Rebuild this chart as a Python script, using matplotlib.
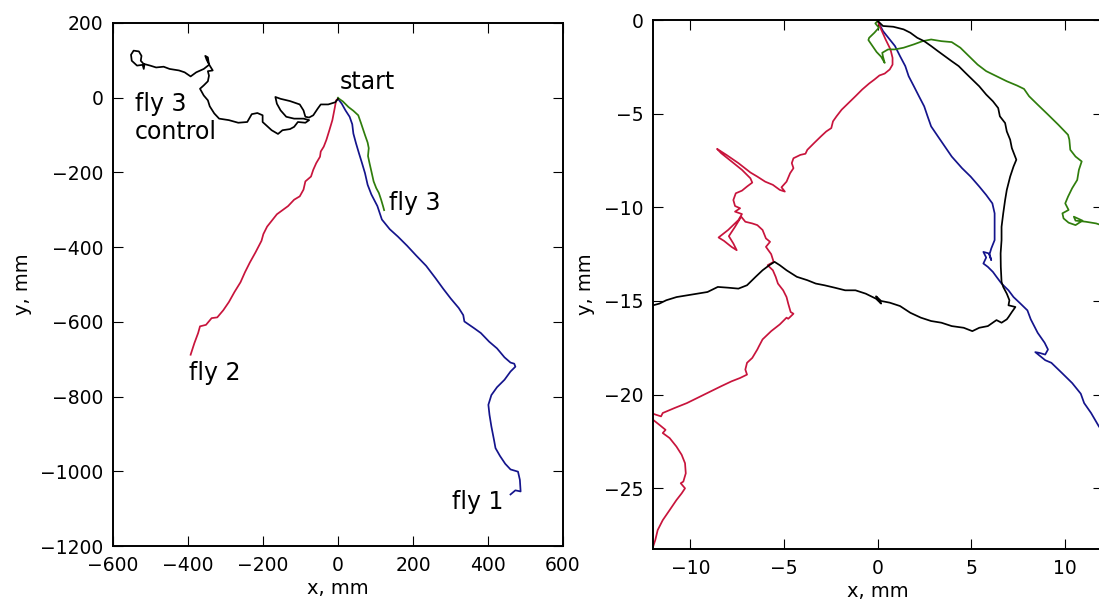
import numpy as np
import matplotlib
matplotlib.use('Agg')
import matplotlib.pyplot as plt

# ---- whole-track view (mm) ----
fly1_x = [0, 10, 20, 31, 38, 41, 48, 56, 64, 72, 79, 89, 105, 117, 138, 160, 184, 209, 235, 260, 281, 301, 322, 334,
          337, 363, 381, 403, 424, 444, 460, 470, 473, 460, 444, 424, 409, 401, 404, 409, 416, 420, 432, 446, 460,
          480, 485, 487, 473, 460]
fly1_y = [-3, -16, -34, -51, -71, -96, -122, -149, -175, -202, -233, -259, -290, -326, -352, -372, -396, -423, -450,
          -483, -512, -538, -563, -582, -599, -617, -630, -653, -671, -695, -709, -712, -720, -733, -755, -775, -796,
          -822, -849, -880, -916, -938, -959, -980, -995, -1001, -1023, -1054, -1051, -1062]

fly2_x = [0, -5, -9, -15, -23, -31, -38, -46, -48, -58, -66, -72, -87, -92, -102, -117, -133, -148, -163, -174, -189,
          -199, -204, -220, -235, -248, -260, -276, -291, -306, -322, -337, -352, -368, -373, -383, -393]
fly2_y = [-3, -7, -29, -60, -87, -113, -131, -144, -158, -175, -193, -211, -224, -246, -264, -273, -290, -301, -312,
          -326, -345, -365, -383, -414, -441, -467, -494, -520, -547, -569, -588, -590, -608, -612, -630, -657, -688]

fly3_x = [0, 3, 13, 28, 41, 54, 61, 66, 72, 79, 82, 80, 84, 89, 95, 102, 109, 115, 120, 123]
fly3_y = [0, -3, -10, -25, -35, -47, -67, -82, -100, -120, -135, -156, -175, -197, -224, -242, -255, -273, -290, -301]

ctrl_x = [0, -7, -26, -46, -54, -66, -77, -87, -92, -102, -128, -153, -167, -163, -153, -138, -117, -92, -77, -87,
          -107, -117, -128, -148, -160, -177, -189, -201, -201, -215, -230, -242, -266, -291, -317, -330, -342, -347,
          -358, -368, -358, -347, -344, -347, -334, -342, -350, -354, -347, -344, -358, -378, -393, -409, -424, -449,
          -465, -485, -501, -516, -518, -521, -536, -550, -552, -545, -531, -524, -526, -518]
ctrl_y = [-3, -12, -18, -18, -29, -47, -53, -51, -34, -18, -9, -3, 2, -16, -34, -51, -56, -56, -60, -67, -65, -78,
          -84, -87, -97, -87, -76, -65, -47, -41, -44, -65, -67, -60, -56, -42, -23, -7, 6, 24, 33, 44, 59, 71, 73,
          86, 101, 112, 108, 88, 77, 68, 57, 68, 73, 77, 83, 81, 86, 90, 77, 88, 86, 99, 115, 126, 124, 112, 99, 90]

# ---- zoom near the start (mm) ----
z1_x = [0, 0.28, 0.64, 0.92, 1.19, 1.47, 1.65, 1.93, 2.2, 2.48, 2.66, 2.85, 3.21, 3.58, 3.95, 4.5, 4.96, 5.42, 5.79,
        6.12, 6.24, 6.24, 6.24, 6.06, 5.97, 6.06, 5.93, 5.64, 5.79, 5.64, 5.88, 6.15, 6.34, 6.61, 6.98, 7.25, 7.62,
        7.99, 8.17, 8.54, 8.91, 9.09, 8.94, 8.63, 8.41, 8.72, 8.94, 9.27, 9.83, 10.38, 10.84, 11.02, 11.39, 11.81,
        12.2]
z1_y = [-0.05, -0.59, -1.04, -1.39, -1.93, -2.46, -3.0, -3.54, -4.07, -4.61, -5.14, -5.68, -6.21, -6.75, -7.29,
        -7.91, -8.36, -8.89, -9.34, -9.79, -10.32, -11.04, -11.75, -12.2, -12.5, -12.82, -12.46, -12.38, -12.68,
        -13.0, -13.18, -13.45, -13.71, -14.07, -14.43, -14.79, -15.14, -15.5, -15.98, -16.7, -17.23, -17.59, -17.86,
        -17.77, -17.73, -17.98, -18.16, -18.3, -18.84, -19.38, -19.95, -20.45, -20.98, -21.7, -22.2]

z2_x = [0.0, 0.18, 0.42, 0.68, 0.79, 0.79, 0.64, 0.37, 0.09, -0.18, -0.46, -0.83, -1.19, -1.56, -1.93, -2.2, -2.39,
        -2.48, -2.75, -3.03, -3.4, -3.76, -3.86, -4.13, -4.5, -4.59, -4.5, -4.68, -4.87, -5.14, -4.96, -5.23, -5.6,
        -6.01, -6.43, -6.8, -7.44, -8.08, -8.58, -8.36, -7.81, -7.25, -6.8, -6.7, -6.98, -7.25, -7.58, -7.71, -7.62,
        -7.35, -7.62, -7.25, -7.44, -7.99, -8.5, -8.21, -7.81, -7.53, -7.71, -7.95, -7.62, -7.29, -7.07, -6.7, -6.43,
        -6.15, -5.97, -5.75, -5.97, -5.69, -5.56, -5.88, -5.6, -5.45, -5.33, -5.05, -4.87, -4.78, -4.65, -4.5, -4.78,
        -4.87, -5.23, -5.69, -6.15, -6.34, -6.43, -6.7, -6.98, -7.07, -6.98, -7.35, -7.81, -8.36, -8.91, -9.64, -10.19,
        -10.84, -11.48, -11.57, -11.85, -12.1, -12.0, -11.66, -11.33, -11.48, -11.11, -10.75, -10.47, -10.29, -10.25,
        -10.38, -10.52, -10.29, -10.47, -10.75, -11.11, -11.48, -11.75, -11.88, -12.0]
z2_y = [-0.05, -0.5, -1.04, -1.57, -2.02, -2.38, -2.64, -2.86, -2.96, -3.18, -3.39, -3.71, -4.07, -4.43, -4.79, -5.14,
        -5.41, -5.77, -5.95, -6.21, -6.57, -6.93, -7.14, -7.2, -7.38, -7.64, -7.91, -8.18, -8.63, -8.93, -9.16, -9.07,
        -8.8, -8.63, -8.36, -8.14, -7.64, -7.2, -6.88, -7.11, -7.55, -8.0, -8.45, -8.68, -8.89, -9.11, -9.25, -9.61,
        -9.93, -10.05, -10.23, -10.36, -10.68, -11.21, -11.61, -11.79, -12.11, -12.29, -11.93, -11.54, -11.04, -10.5,
        -10.77, -10.86, -10.95, -11.21, -11.66, -11.84, -12.11, -12.5, -12.91, -13.09, -13.36, -13.71, -14.07, -14.43,
        -14.79, -15.14, -15.59, -15.68, -15.95, -15.89, -16.25, -16.61, -17.05, -17.41, -17.59, -18.04, -18.3, -18.66,
        -18.93, -19.11, -19.29, -19.55, -19.82, -20.18, -20.45, -20.71, -20.98, -21.16, -21.07, -20.98, -21.34,
        -21.61, -21.88, -22.05, -22.32, -22.77, -23.21, -23.66, -24.2, -24.64, -24.73, -25.0, -25.27, -25.63, -26.16,
        -26.7, -27.23, -27.77, -28.13]

z3_x = [0, -0.13, 0.06, -0.18, -0.46, -0.5, -0.28, -0.06, 0.18, 0.37, 0.28, 0.24, 0.55, 0.92, 1.38, 1.93, 2.39, 2.85,
        3.4, 3.95, 4.41, 4.87, 5.33, 5.79, 6.34, 6.89, 7.44, 7.81, 8.08, 8.54, 9.09, 9.64, 10.16, 10.23, 10.28, 10.56,
        10.89, 10.74, 10.65, 10.38, 10.16, 10.01, 10.19, 9.86, 9.92, 10.19, 10.56, 10.93, 10.47, 10.56, 11.11, 11.66,
        12.21]
z3_y = [-0.05, -0.18, -0.41, -0.68, -0.95, -1.07, -1.39, -1.71, -1.96, -2.29, -1.96, -1.75, -1.57, -1.57, -1.48,
        -1.3, -1.13, -1.04, -1.13, -1.18, -1.48, -1.93, -2.38, -2.73, -3.0, -3.27, -3.5, -3.68, -4.07, -4.52, -5.05,
        -5.59, -6.13, -6.39, -6.93, -7.29, -7.55, -8.0, -8.54, -8.98, -9.43, -9.79, -10.14, -10.32, -10.59, -10.82,
        -10.95, -10.71, -10.5, -10.71, -10.77, -10.86, -11.04]

zc_x = [0, 0.28, 0.83, 1.38, 1.74, 2.11, 2.48, 2.85, 3.21, 3.58, 3.95, 4.32, 4.68, 5.05, 5.42, 5.79, 6.15, 6.43, 6.52,
        6.8, 6.89, 7.07, 7.16, 7.4, 7.25, 7.07, 6.89, 6.8, 6.7, 6.61, 6.61, 6.56, 6.57, 6.61, 6.7, 6.89, 7.03, 6.98,
        7.35, 7.16, 6.98, 6.89, 6.61, 6.34, 5.88, 5.42, 5.05, 4.59, 3.95, 3.4, 2.85, 2.3, 1.74, 1.19, 0.64, 0.18,
        -0.09, 0.18, -0.09, -0.64, -1.19, -1.74, -2.3, -2.85, -3.31, -3.76, -4.32, -4.87, -5.23, -5.51, -5.79, -6.15,
        -6.52, -6.98, -7.44, -7.99, -8.54, -9.09, -9.64, -10.19, -10.74, -11.29, -11.66, -11.99, -12.3]
zc_y = [-0.05, -0.32, -0.36, -0.5, -0.68, -0.95, -1.13, -1.39, -1.66, -1.93, -2.2, -2.46, -2.82, -3.18, -3.54, -3.98,
        -4.34, -4.7, -5.14, -5.5, -5.95, -6.39, -6.84, -7.46, -7.82, -8.36, -9.07, -9.61, -10.32, -11.04, -11.75,
        -12.46, -13.18, -13.98, -14.25, -14.61, -14.96, -15.23, -15.32, -15.59, -15.86, -15.98, -16.16, -16.02, -16.34,
        -16.43, -16.61, -16.43, -16.34, -16.16, -16.07, -15.89, -15.63, -15.27, -15.09, -15.0, -14.75, -15.14, -14.88,
        -14.61, -14.43, -14.43, -14.29, -14.16, -14.07, -13.89, -13.71, -13.36, -13.09, -12.91, -13.09, -13.36, -13.71,
        -14.16, -14.34, -14.29, -14.25, -14.52, -14.61, -14.7, -14.79, -14.96, -15.14, -15.23, -15.32]

c_fly1 = '#14148c'
c_fly2 = '#c8143c'
c_fly3 = '#2f7d0c'
c_ctrl = 'black'

plt.rcParams['font.family'] = 'DejaVu Sans'
plt.rcParams['xtick.direction'] = 'in'
plt.rcParams['ytick.direction'] = 'in'
plt.rcParams['xtick.top'] = True
plt.rcParams['ytick.right'] = True

fig = plt.figure(figsize=(10.99, 6.05), dpi=100)
ax1 = fig.add_axes([113/1099, 59/605, 450/1099, 523/605])
ax2 = fig.add_axes([653/1099, 56/605, 449.5/1099, 529/605])

lw = 1.25
ax1.plot(fly1_x, fly1_y, color=c_fly1, lw=lw)
ax1.plot(fly2_x, fly2_y, color=c_fly2, lw=lw)
ax1.plot(fly3_x, fly3_y, color=c_fly3, lw=lw)
ax1.plot(ctrl_x, ctrl_y, color=c_ctrl, lw=lw)
ax1.set_xlim(-600, 600)
ax1.set_ylim(-1200, 200)
ax1.set_xticks(np.arange(-600, 601, 200))
ax1.set_yticks(np.arange(-1200, 201, 200))

fs = 17
ax1.text(5, 42, 'start', fontsize=fs, va='center', ha='left')
ax1.text(-541, -54, 'fly 3\ncontrol', fontsize=fs, va='center', ha='left', linespacing=1.2)
ax1.text(137, -282, 'fly 3', fontsize=fs, va='center', ha='left')
ax1.text(-397, -737, 'fly 2', fontsize=fs, va='center', ha='left')
ax1.text(305, -1083, 'fly 1', fontsize=fs, va='center', ha='left')

ax2.plot(z1_x, z1_y, color=c_fly1, lw=lw)
ax2.plot(z2_x, z2_y, color=c_fly2, lw=lw)
ax2.plot(z3_x, z3_y, color=c_fly3, lw=lw)
ax2.plot(zc_x, zc_y, color=c_ctrl, lw=lw)
ax2.set_xlim(-12, 12)
ax2.set_ylim(-28.24, 0)
ax2.set_xticks([-10, -5, 0, 5, 10])
ax2.set_yticks([-25, -20, -15, -10, -5, 0])

for ax in (ax1, ax2):
    ax.set_xlabel('x, mm', fontsize=14, labelpad=3)
    ax.set_ylabel('y, mm', fontsize=14, labelpad=6)
    ax.tick_params(labelsize=13.5, length=7, width=0.8, pad=7)
    for sp in ax.spines.values():
        sp.set_linewidth(1.4)

plt.savefig('out.png', dpi=100)
